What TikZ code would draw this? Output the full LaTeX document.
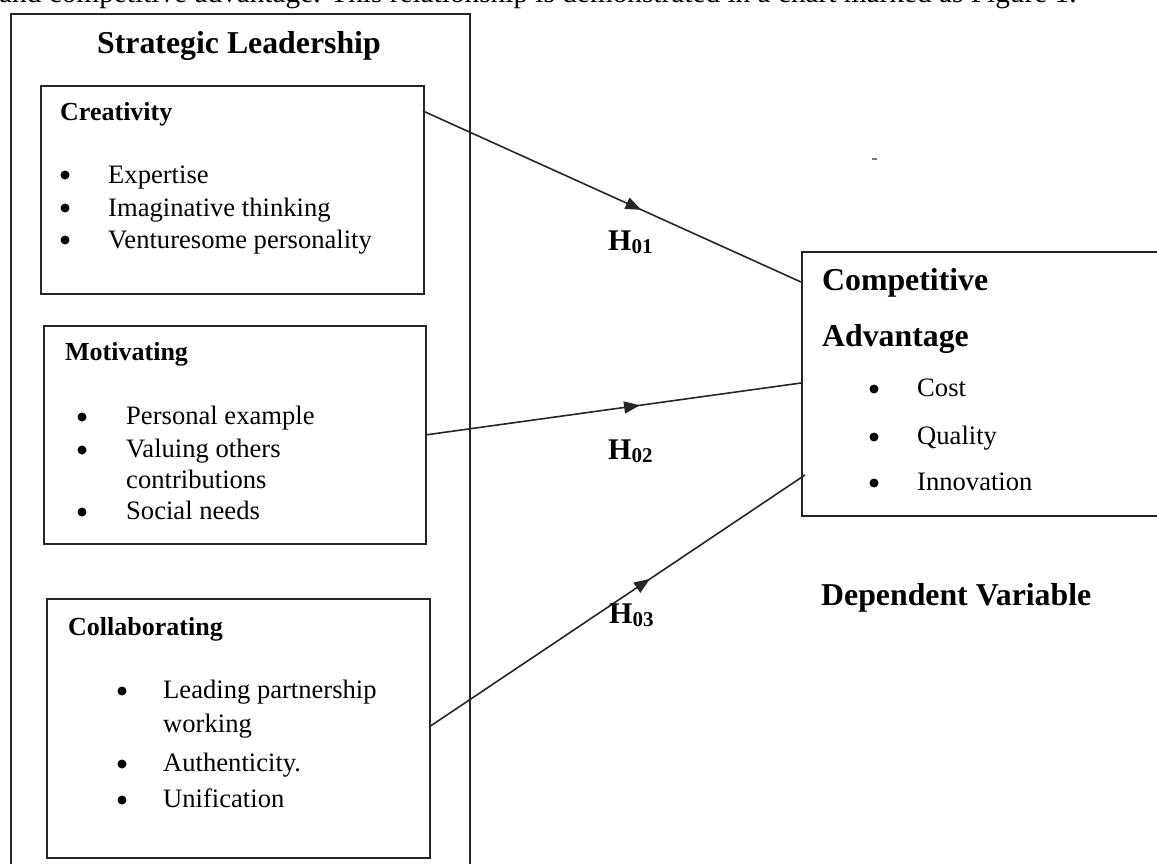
\documentclass[tikz,border=0pt]{standalone}
\usepackage{fontspec}
\setmainfont{Liberation Serif}
\usetikzlibrary{arrows.meta,decorations.markings}

\tikzset{
  frame/.style={draw=black!85, line width=2pt, inner sep=0pt, anchor=north west},
  body/.style={anchor=base west, inner sep=0pt, font=\fontsize{26.6}{32}\selectfont},
  subhead/.style={anchor=base west, inner sep=0pt, font=\fontsize{26}{32}\selectfont\bfseries},
  head/.style={anchor=base west, inner sep=0pt, font=\fontsize{31.8}{38}\selectfont\bfseries},
  hyp/.style={anchor=base west, inner sep=0pt, font=\fontsize{30}{36}\selectfont\bfseries},
  bul/.style={circle, fill=black, inner sep=0pt, minimum size=9pt},
  link/.style={draw=black!85, line width=1.6pt, postaction={decorate},
    decoration={markings, mark=at position #1 with {\arrow{Triangle[length=16pt,width=12pt]}}}},
}
\newcommand{\hypsub}[1]{\raisebox{-3pt}{\fontsize{21}{21}\selectfont #1}}

\begin{document}
\begin{tikzpicture}[x=1pt,y=-1pt]
\useasboundingbox (0,0) rectangle (1157,863);
\clip (0,0) rectangle (1157,863);

% running text above the figure
\node[anchor=base west, inner sep=0pt, font=\fontsize{29.3}{34}\selectfont] (intro) at (-1,2.5) {and competitive advantage. This relationship is demonstrated in a chart marked as Figure 1.};

% independent variable frame
\node[frame, minimum width=459.5pt, minimum height=880pt] (lead) at (9.5,13) {};
\node[head] (leadt) at (97,53) {Strategic Leadership};

% creativity
\node[frame, minimum width=383pt, minimum height=208pt] (crea) at (40,85) {};
\node[subhead] (creat) at (60,120) {Creativity};
\node[bul] (cb1) at (65,175) {};
\node[bul] (cb2) at (65,208) {};
\node[bul] (cb3) at (65,240) {};
\node[body] (ci1) at (108,183) {Expertise};
\node[body] (ci2) at (108,216) {Imaginative thinking};
\node[body] (ci3) at (108,248) {Venturesome personality};

% motivating
\node[frame, minimum width=382pt, minimum height=218pt] (moti) at (43,325) {};
\node[subhead] (motit) at (65,360) {Motivating};
\node[bul] (mb1) at (82,417) {};
\node[bul] (mb2) at (82,450) {};
\node[bul] (mb3) at (82,512) {};
\node[body] (mi1) at (126,424) {Personal example};
\node[body] (mi2) at (126,457) {Valuing others};
\node[body] (mi2b) at (126,488) {contributions};
\node[body] (mi3) at (126,519) {Social needs};

% collaborating
\node[frame, minimum width=383pt, minimum height=259pt] (coll) at (46,598) {};
\node[subhead] (collt) at (68,635) {Collaborating};
\node[bul] (lb1) at (122,691) {};
\node[bul] (lb2) at (122,764) {};
\node[bul] (lb3) at (122,800) {};
\node[body] (li1) at (163,698) {Leading partnership};
\node[body] (li1b) at (163,732) {working};
\node[body] (li2) at (163,771) {Authenticity.};
\node[body] (li3) at (163,807) {Unification};

% dependent variable
\node[frame, minimum width=380pt, minimum height=264pt] (comp) at (801,251) {};
\node[head] (compt1) at (822,290) {Competitive};
\node[head] (compt2) at (822,346) {Advantage};
\node[bul] (kb1) at (874,389) {};
\node[bul] (kb2) at (874,437) {};
\node[bul] (kb3) at (874,483) {};
\node[body] (ki1) at (917,396) {Cost};
\node[body] (ki2) at (917,444) {Quality};
\node[body] (ki3) at (917,490) {Innovation};
\node[head] (dep) at (821,605) {Dependent Variable};

% stray mark
\draw[black!55, line width=1.6pt] (872,159) -- (877,159);

% hypothesis links
\coordinate (s1) at (423,111);
\coordinate (e1) at (801,282);
\coordinate (s2) at (425,435);
\coordinate (e2) at (801,383);
\coordinate (s3) at (429,727);
\coordinate (e3) at (805,475);
\path[link=0.578] (s1) -- (e1);
\path[link=0.572] (s2) -- (e2);
\path[link=0.588] (s3) -- (e3);

\node[hyp] (h1) at (608,250.5) {H\hypsub{01}};
\node[hyp] (h2) at (608,459) {H\hypsub{02}};
\node[hyp] (h3) at (609,623) {H\hypsub{03}};
\end{tikzpicture}
\end{document}
